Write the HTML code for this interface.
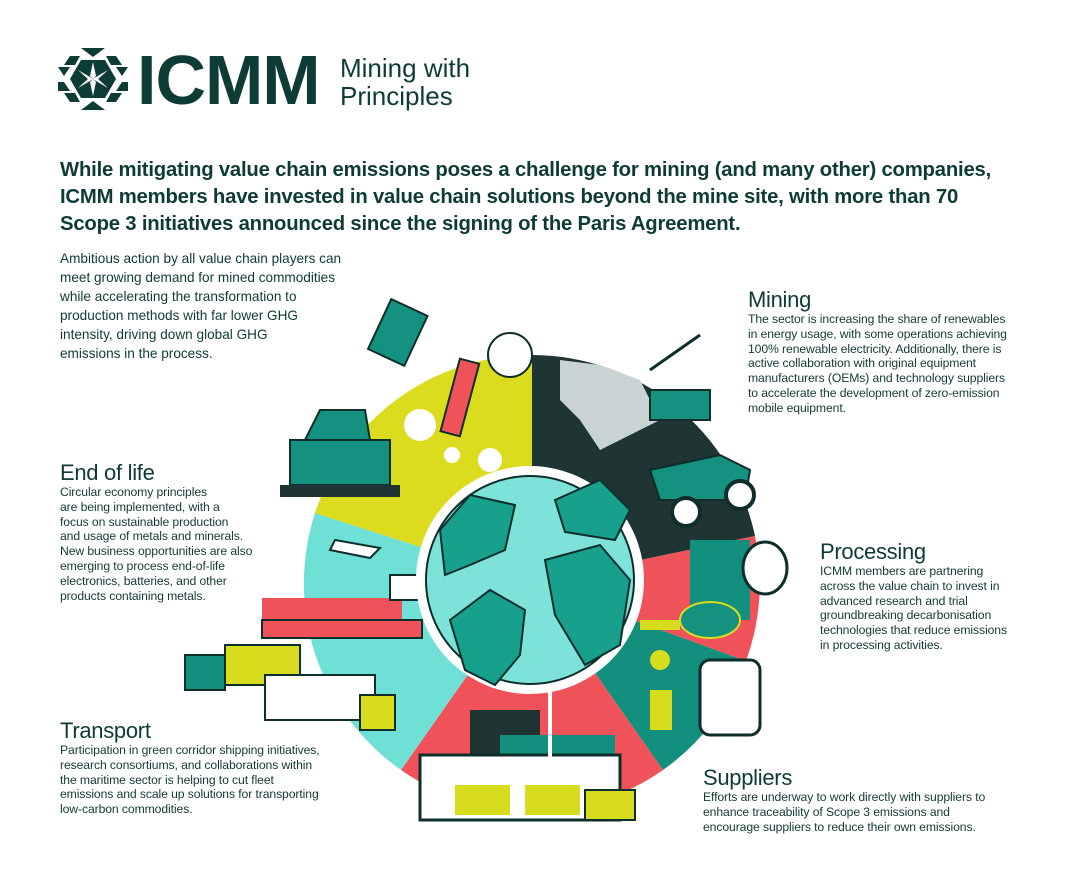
<!DOCTYPE html>
<html><head><meta charset="utf-8"><style>
*{margin:0;padding:0;box-sizing:border-box}
body{width:1080px;height:870px;background:#fff;position:relative;overflow:hidden;font-family:"Liberation Sans",sans-serif;color:#0d3b36}
.a{position:absolute;white-space:nowrap}
.h{font-size:22px;line-height:24px;letter-spacing:-0.3px}
.b{font-size:12.2px;line-height:14.8px;letter-spacing:-0.1px;color:#123a35}
</style></head><body>
<svg class="a" style="left:58px;top:48px" width="70" height="62" viewBox="0 0 70 62">
<g fill="#0d3b36">
<polygon points="23,0 47,0 35,9"/>
<polygon points="12,8 22,8 17,17 6,17"/><polygon points="48,8 58,8 64,17 53,17"/>
<polygon points="0,19 12,19 6,28"/><polygon points="58,19 70,19 64,28"/>
<polygon points="23,12 47,12 58,31 47,50 23,50 12,31"/>
<polygon points="0,34 6,34 12,43 0,43"/><polygon points="64,34 70,34 70,43 58,43"/>
<polygon points="6,45 17,45 22,54 12,54"/><polygon points="53,45 64,45 58,54 48,54"/>
<polygon points="35,53 47,62 23,62"/>
</g>
<g fill="#fff"><polygon points="35,14 38,28 35,31 32,28"/><polygon points="35,48 38,34 35,31 32,34"/><polygon points="20,22 32,29 35,31 31,32"/><polygon points="50,22 38,29 35,31 39,32"/><polygon points="20,40 32,33 35,31 31,30"/><polygon points="50,40 38,33 35,31 39,30"/></g>
</svg>
<div class="a" style="left:137px;top:44px;font-size:70px;font-weight:bold;line-height:72px;letter-spacing:-1px">ICMM</div>
<div class="a" style="left:340px;top:54px;font-size:26px;line-height:28px">Mining with<br>Principles</div>

<div class="a" style="left:60px;top:157px;font-size:20.3px;line-height:27px;font-weight:bold;letter-spacing:-0.2px">While mitigating value chain emissions poses a challenge for mining (and many other) companies,<br>ICMM members have invested in value chain solutions beyond the mine site, with more than 70<br>Scope 3 initiatives announced since the signing of the Paris Agreement.</div>

<div class="a" style="left:60px;top:249px;font-size:13.6px;line-height:19px">Ambitious action by all value chain players can<br>meet growing demand for mined commodities<br>while accelerating the transformation to<br>production methods with far lower GHG<br>intensity, driving down global GHG<br>emissions in the process.</div>

<svg class="a" style="left:0;top:0" width="1080" height="870">
<g transform="translate(532,583)">
<path d="M0,0 L0,-228 A228,228 0 0 1 223,-47 Z" fill="#1f3533"/>
<path d="M0,0 L223,-47 A228,228 0 0 1 214,78 Z" fill="#f0525a"/>
<path d="M0,0 L214,78 A228,228 0 0 1 131,187 Z" fill="#138f7e"/>
<path d="M0,0 L131,187 A228,228 0 0 1 -131,187 Z" fill="#f0525a"/>
<path d="M0,0 L-131,187 A228,228 0 0 1 -217,-70 Z" fill="#6fe0d5"/>
<path d="M0,0 L-217,-70 A228,228 0 0 1 0,-228 Z" fill="#dcdc1f"/>
</g>
<polygon points="560,360 600,365 640,380 660,420 620,440 600,450 580,420 560,400" fill="#c9d3d3"/>
<rect x="650" y="390" width="60" height="30" fill="#15917f" stroke="#0d2e2b" stroke-width="2"/>
<line x1="650" y1="370" x2="700" y2="335" stroke="#0d2e2b" stroke-width="3"/>
<polygon points="650,470 720,455 750,470 745,500 660,500" fill="#15917f" stroke="#0d2e2b" stroke-width="2"/>
<circle cx="686" cy="512" r="14" fill="#fff" stroke="#0d2e2b" stroke-width="4"/>
<circle cx="740" cy="495" r="14" fill="#fff" stroke="#0d2e2b" stroke-width="4"/>
<rect x="690" y="540" width="60" height="80" fill="#138f7e"/>
<ellipse cx="710" cy="620" rx="30" ry="18" fill="#15917f" stroke="#d8dc1f" stroke-width="2"/>
<ellipse cx="765" cy="568" rx="22" ry="26" fill="#fff" stroke="#0d2e2b" stroke-width="3"/>
<rect x="640" y="620" width="40" height="10" fill="#d8dc1f"/>
<rect x="700" y="660" width="60" height="75" rx="10" fill="#fff" stroke="#0d2e2b" stroke-width="3"/>
<rect x="650" y="690" width="22" height="40" fill="#d8dc1f"/>
<circle cx="660" cy="660" r="10" fill="#d8dc1f"/>
<rect x="470" y="710" width="70" height="50" fill="#1f3533"/>
<rect x="500" y="735" width="115" height="30" fill="#138f7e"/>
<rect x="420" y="755" width="200" height="65" fill="#fff" stroke="#0d2e2b" stroke-width="3"/>
<rect x="455" y="785" width="55" height="30" fill="#d8dc1f"/>
<rect x="525" y="785" width="55" height="30" fill="#d8dc1f"/>
<rect x="585" y="790" width="50" height="30" fill="#d8dc1f" stroke="#0d2e2b" stroke-width="2"/>
<line x1="550" y1="640" x2="550" y2="760" stroke="#fff" stroke-width="4"/>
<rect x="262" y="598" width="140" height="22" fill="#f0525a"/>
<rect x="262" y="620" width="160" height="18" fill="#f0525a" stroke="#0d2e2b" stroke-width="2"/>
<rect x="390" y="575" width="30" height="25" fill="#fff" stroke="#0d2e2b" stroke-width="2"/>
<rect x="225" y="645" width="75" height="40" fill="#d8dc1f" stroke="#0d2e2b" stroke-width="2"/>
<rect x="185" y="655" width="40" height="35" fill="#138f7e" stroke="#0d2e2b" stroke-width="2"/>
<rect x="265" y="675" width="110" height="45" fill="#fff" stroke="#0d2e2b" stroke-width="2"/>
<rect x="360" y="695" width="35" height="35" fill="#d8dc1f" stroke="#0d2e2b" stroke-width="2"/>
<polygon points="335,540 380,548 370,558 330,550" fill="#fff" stroke="#0d2e2b" stroke-width="2"/>
<rect x="290" y="440" width="100" height="45" fill="#15917f" stroke="#0d2e2b" stroke-width="2"/>
<polygon points="305,440 320,410 365,410 370,440" fill="#15917f" stroke="#0d2e2b" stroke-width="2"/>
<rect x="280" y="485" width="120" height="12" fill="#1f3533"/>
<rect x="378" y="305" width="40" height="55" fill="#15917f" stroke="#0d2e2b" stroke-width="2" transform="rotate(25 398 332)"/>
<rect x="450" y="360" width="20" height="75" fill="#f0525a" stroke="#0d2e2b" stroke-width="2" transform="rotate(15 460 397)"/>
<circle cx="510" cy="355" r="22" fill="#fff" stroke="#0d2e2b" stroke-width="2"/>
<circle cx="420" cy="425" r="16" fill="#fff"/><circle cx="490" cy="460" r="12" fill="#fff"/><circle cx="452" cy="455" r="8" fill="#fff"/>
<circle cx="530" cy="580" r="114" fill="#fff"/>
<circle cx="530" cy="580" r="104" fill="#7de3d8" stroke="#0d2e2b" stroke-width="2"/>
<path d="M440,530 L470,495 L515,505 L505,550 L470,565 L445,575 Z" fill="#17a08c" stroke="#0d2e2b" stroke-width="2"/>
<path d="M450,620 L490,590 L525,610 L520,655 L495,685 L465,670 Z" fill="#17a08c" stroke="#0d2e2b" stroke-width="2"/>
<path d="M545,560 L600,545 L630,580 L620,645 L585,665 L555,615 Z" fill="#17a08c" stroke="#0d2e2b" stroke-width="2"/>
<path d="M555,500 L600,480 L630,510 L615,540 L565,532 Z" fill="#17a08c" stroke="#0d2e2b" stroke-width="2"/>
</svg>

<div class="a" style="left:748px;top:288px"><div class="h">Mining</div><div class="b">The sector is increasing the share of renewables<br>in energy usage, with some operations achieving<br>100% renewable electricity. Additionally, there is<br>active collaboration with original equipment<br>manufacturers (OEMs) and technology suppliers<br>to accelerate the development of zero-emission<br>mobile equipment.</div></div>

<div class="a" style="left:60px;top:461px"><div class="h">End of life</div><div class="b">Circular economy principles<br>are being implemented, with a<br>focus on sustainable production<br>and usage of metals and minerals.<br>New business opportunities are also<br>emerging to process end-of-life<br>electronics, batteries, and other<br>products containing metals.</div></div>

<div class="a" style="left:820px;top:540px"><div class="h">Processing</div><div class="b">ICMM members are partnering<br>across the value chain to invest in<br>advanced research and trial<br>groundbreaking decarbonisation<br>technologies that reduce emissions<br>in processing activities.</div></div>

<div class="a" style="left:60px;top:719px"><div class="h">Transport</div><div class="b">Participation in green corridor shipping initiatives,<br>research consortiums, and collaborations within<br>the maritime sector is helping to cut fleet<br>emissions and scale up solutions for transporting<br>low-carbon commodities.</div></div>

<div class="a" style="left:703px;top:766px"><div class="h">Suppliers</div><div class="b">Efforts are underway to work directly with suppliers to<br>enhance traceability of Scope 3 emissions and<br>encourage suppliers to reduce their own emissions.</div></div>
</body></html>
